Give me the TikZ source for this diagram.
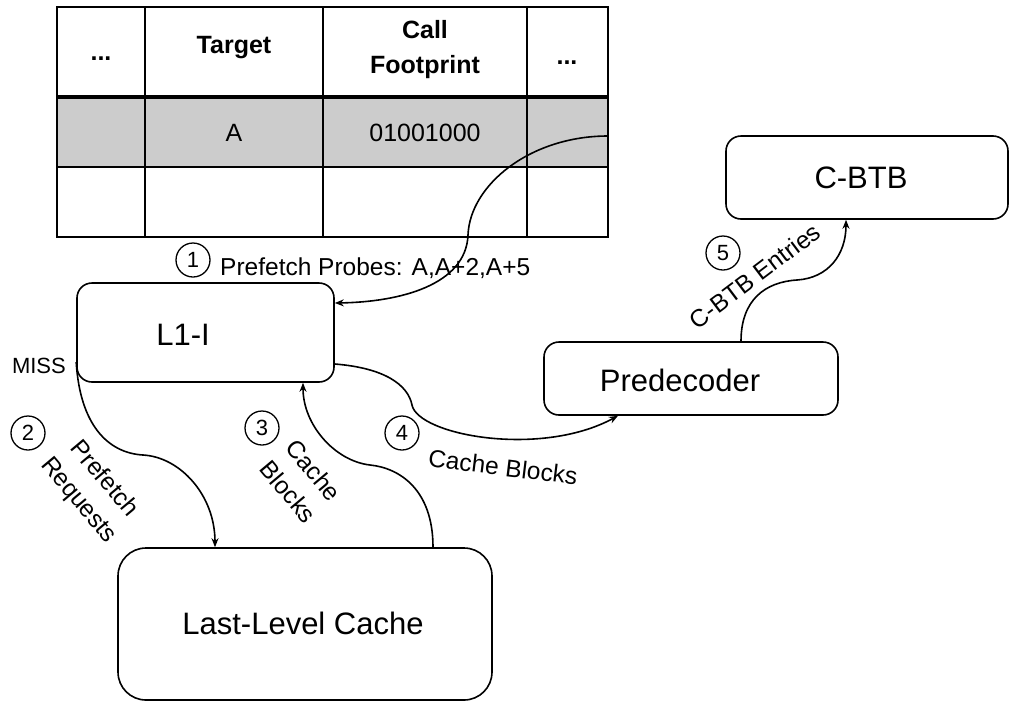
\documentclass[tikz,border=0pt]{standalone}
\usepackage{fontspec}
\setmainfont{Liberation Sans}
\usetikzlibrary{arrows.meta}
\definecolor{rowgray}{HTML}{CCCCCC}
\begin{document}
\begin{tikzpicture}[x=1pt,y=-1pt,
  box/.style={draw, line width=1.6pt, rounded corners=15pt, inner sep=0pt},
  boxtxt/.style={font=\fontsize{31}{36}\selectfont, inner sep=0pt},
  lbl/.style={font=\fontsize{24.5}{33}\selectfont, inner sep=0pt, align=center},
  thead/.style={font=\fontsize{25}{35}\selectfont\bfseries, inner sep=0pt, align=center},
  tbody/.style={font=\fontsize{25}{29}\selectfont, inner sep=0pt},
  num/.style={draw, circle, line width=1.3pt, minimum size=34pt, inner sep=0pt, font=\fontsize{22}{24}\selectfont},
  conn/.style={line width=1.6pt, -{Stealth[length=9pt,width=7pt]}},
  tline/.style={line width=1.2pt},
  ]
\useasboundingbox (0,0) rectangle (1009,702);

% table
\fill[rowgray] (57,97) rectangle (608,167);
\draw[tline] (57,7) rectangle (608,237);
\draw[tline] (145,7) -- (145,237);
\draw[tline] (323,7) -- (323,237);
\draw[tline] (527,7) -- (527,237);
\draw[tline] (57,167) -- (608,167);
\draw[line width=3.5pt] (57,97) -- (608,97);
\node[thead, anchor=base] (h1) at (101,60) {...};
\node[thead] (h2) at (234,48) {Target};
\node[thead] (h3) at (425,50) {Call\\Footprint};
\node[thead, anchor=base] (h4) at (567,64) {...};
\node[tbody] (c2) at (234,133) {A};
\node[tbody] (c3) at (425,133) {01001000};
\coordinate (tr) at (608,136);

% boxes
\node[box, minimum width=257pt, minimum height=99pt] (l1) at (205.5,332.5) {};
\node[boxtxt] (l1t) at (183,335) {L1-I};
\node[box, rounded corners=28pt, minimum width=374pt, minimum height=152pt] (llc) at (305,624) {};
\node[boxtxt] (llct) at (303,623) {Last-Level Cache};
\node[box, minimum width=294pt, minimum height=73pt] (pd) at (691,378.5) {};
\node[boxtxt] (pdt) at (680,380) {Predecoder};
\node[box, minimum width=282pt, minimum height=83pt] (cb) at (867,177.5) {};
\node[boxtxt] (cbt) at (861,178) {C-BTB};

% connectors
\draw[conn] (tr) .. controls (530,136) and (470,185) .. (468,235)
  .. controls (466,285) and (400,302) .. ([yshift=29.5pt]l1.east);
\draw[conn] ([yshift=-29.5pt]l1.west) .. controls (80,425) and (108,453) .. (143,455)
  .. controls (180,457) and (215,495) .. ([xshift=-90pt]llc.north);
\draw[conn] ([xshift=128pt]llc.north) .. controls (433,490) and (400,468) .. (370,465)
  .. controls (335,461) and (303,425) .. ([xshift=97.5pt]l1.south);
\draw[conn] ([yshift=-31.5pt]l1.east) .. controls (385,368) and (408,385) .. (412,405)
  .. controls (418,435) and (540,458) .. ([xshift=-73pt]pd.south);
\draw[conn] ([xshift=50pt]pd.north) .. controls (741,300) and (765,282) .. (797,280)
  .. controls (828,278) and (846,255) .. ([xshift=-21pt]cb.south);

% labels
\node[num] (n1) at (193,260) {1};
\node[lbl, anchor=base west] (lb1) at (220,275) {Prefetch Probes: A,A+2,A+5};
\node[font=\fontsize{22}{26}\selectfont, inner sep=0pt, anchor=base east] (miss) at (66,373) {MISS};
\node[num] (n2) at (28,433) {2};
\node[lbl, rotate=-50] (lb2) at (91,490) {Prefetch\\Requests};
\node[num] (n3) at (262,428) {3};
\node[lbl, rotate=-50] (lb3) at (301,481) {Cache\\Blocks};
\node[num] (n4) at (402,433) {4};
\node[lbl, rotate=-7] (lb4) at (503,467) {Cache Blocks};
\node[num] (n5) at (723,253) {5};
\node[lbl, rotate=37] (lb5) at (755,276) {C-BTB Entries};
\end{tikzpicture}
\end{document}
